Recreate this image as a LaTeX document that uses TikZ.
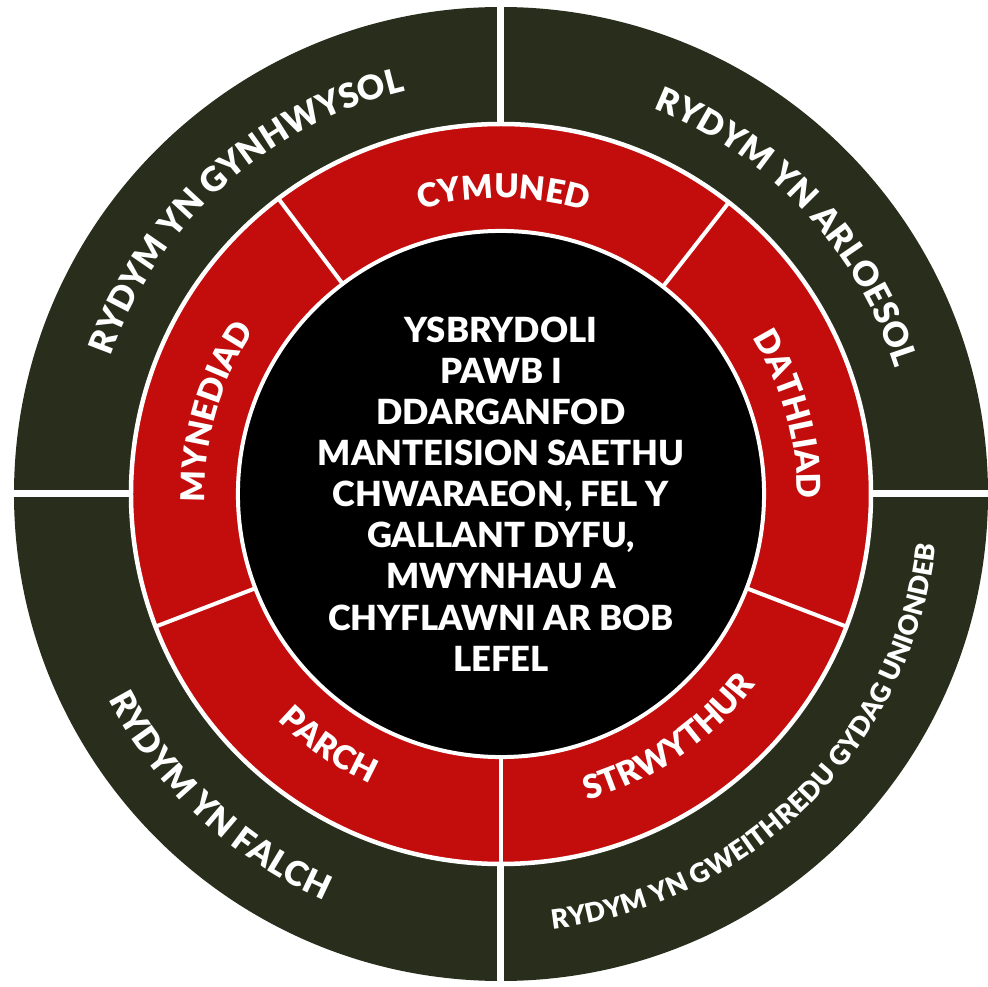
\documentclass[tikz,border=0pt]{standalone}
\usepackage{fontspec}
\setmainfont{Lato}[BoldFont={Lato Black}]
\usetikzlibrary{decorations.text}

\definecolor{ringgreen}{RGB}{40,46,27}
\definecolor{ringred}{RGB}{195,12,12}
\newcommand{\outerfont}{\fontsize{19.3}{23}\selectfont\bfseries\color{white}}
\newcommand{\smallouterfont}{\fontsize{15.2}{18}\selectfont\bfseries\color{white}}
\newcommand{\redfont}{\fontsize{18.7}{22}\selectfont\bfseries\color{white}}

\begin{document}
\begin{tikzpicture}[x=0.2mm,y=0.2mm]
	\tikzset{
		divider/.style={white,line width=0.8mm},
		quarter/.style={white,line width=1.4mm},
		arctext/.style={decorate,decoration={text along path,text align=center,text={#1}}},
	}
	\useasboundingbox (-501,-493) rectangle (487,494);

	%% outer ring and red ring
	\fill[ringgreen] (0,0) circle[radius=487];
	\filldraw[fill=ringred,draw=white,line width=0.9mm] (0,0) circle[radius=370];
	\foreach \a in {0,90,180,270}
		\draw[quarter] (\a:372) -- (\a:492);
	\foreach \a in {52,127,201,270,339}
		\draw[divider] (\a:240) -- (\a:372);

	%% centre
	\node[circle,fill=black,draw=white,line width=0.8mm,minimum size=96.4mm,
		align=center,text=white,font=\fontsize{19.7}{23.4}\selectfont\bfseries] (hub) at (0,0)
		{YSBRYDOLI\\PAWB I\\DDARGANFOD\\MANTEISION SAETHU\\CHWARAEON, FEL Y\\GALLANT DYFU,\\MWYNHAU A\\CHYFLAWNI AR BOB\\LEFEL};

	%% values in the red ring
	\path[arctext={|\redfont|CYMUNED}] (127:296) arc[start angle=127,end angle=52,radius=296];
	\path[arctext={|\redfont|MYNEDIAD}] (201:296) arc[start angle=201,end angle=127,radius=296];
	\path[arctext={|\redfont|DATHLIAD}] (52:296) arc[start angle=52,end angle=-21,radius=296];
	\path[arctext={|\redfont|PARCH}] (201:318) arc[start angle=201,end angle=270,radius=318];
	\path[arctext={|\redfont|STRWYTHUR}] (270:318) arc[start angle=270,end angle=339,radius=318];

	%% statements in the outer ring
	\path[arctext={|\outerfont|RYDYM YN GYNHWYSOL}] (176:414) arc[start angle=176,end angle=88,radius=414];
	\path[arctext={|\outerfont|RYDYM YN ARLOESOL}] (87:414) arc[start angle=87,end angle=-1,radius=414];
	\path[arctext={|\outerfont|RYDYM YN FALCH}] (183:443) arc[start angle=183,end angle=271,radius=443];
	\path[arctext={|\smallouterfont|RYDYM YN GWEITHREDU GYDAG UNIONDEB}] (271:438) arc[start angle=271,end angle=359,radius=438];
\end{tikzpicture}
\end{document}
